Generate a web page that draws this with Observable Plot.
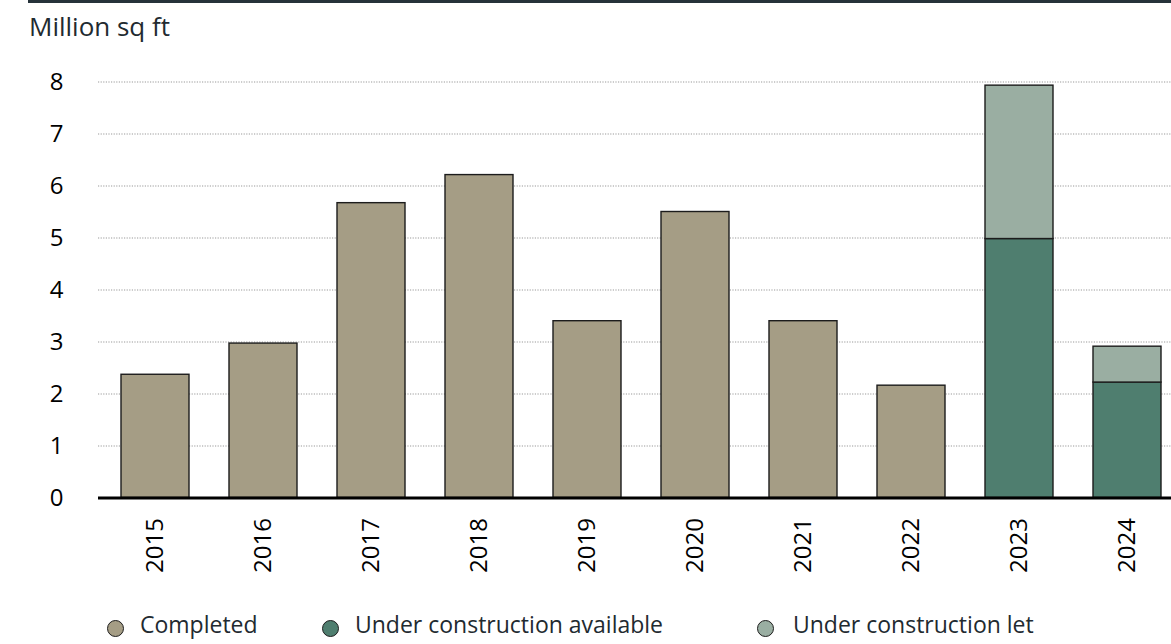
<!DOCTYPE html>
<html>
<head>
<meta charset="utf-8">
<script src="https://cdn.jsdelivr.net/npm/d3@7"></script>
<script src="https://cdn.jsdelivr.net/npm/@observablehq/plot@0.6"></script>
<style>
  html, body { margin: 0; padding: 0; background: #fff; }
  body { width: 1171px; height: 644px; overflow: hidden; font-family: "Open Sans", sans-serif; }
  #topline { position: absolute; left: 28px; top: 0; width: 1143px; height: 3px; background: #26323a; }
  #title { position: absolute; left: 29px; top: 13px; font-size: 26px; line-height: 26px; color: #222a30; white-space: nowrap; }
  #chart { position: absolute; left: 0; top: 45px; }
  #legend { position: absolute; left: 0; top: 585px; width: 1171px; height: 59px; }
  .sw { position: absolute; top: 35px; width: 15px; height: 15px; border-radius: 50%; border: 1.5px solid #1e1e1e; }
  .lab { position: absolute; top: 28px; font-size: 23px; line-height: 23px; color: #222a30; white-space: nowrap; }
</style>
</head>
<body>
<div id="topline"></div>
<div id="title">Million sq ft</div>
<div id="chart"></div>
<div id="legend"></div>
<script>
const years = ["2015","2016","2017","2018","2019","2020","2021","2022","2023","2024"];
const seriesNames = ["Completed", "Under construction available", "Under construction let"];
const seriesColors = ["#a59d85", "#4f7e6f", "#9aaea2"];
const completed = [2.37, 2.97, 5.67, 6.21, 3.40, 5.50, 3.40, 2.16, 0, 0];
const available = [0, 0, 0, 0, 0, 0, 0, 0, 4.98, 2.22];
const letValues = [0, 0, 0, 0, 0, 0, 0, 0, 2.95, 0.69];
const yTicks = [0, 1, 2, 3, 4, 5, 6, 7, 8];

const seriesValues = [completed, available, letValues];
const data = [];
seriesNames.forEach((s, si) => {
  years.forEach((yr, i) => {
    const v = seriesValues[si][i];
    if (v > 0) data.push({year: yr, series: s, value: v});
  });
});

const chart = Plot.plot({
  width: 1171,
  height: 540,
  marginLeft: 98,
  marginRight: 0,
  marginTop: 36.5,
  marginBottom: 87.5,
  x: {domain: years, range: [77.8, 1204.7], padding: 0.37, label: null},
  y: {domain: [0, 8], label: null},
  color: {domain: seriesNames, range: seriesColors},
  style: {fontFamily: "Open Sans, sans-serif", color: "#000", background: "transparent"},
  marks: [
    Plot.ruleY(yTicks.filter(d => d > 0), {stroke: "#9a9a9a", strokeWidth: 1.2, strokeDasharray: "1.2,1.4"}),
    Plot.barY(data, {x: "year", y: "value", fill: "series", stroke: "#1c1c1c", strokeWidth: 1.4}),
    Plot.ruleY([0], {stroke: "#000", strokeWidth: 3}),
    Plot.axisY(yTicks, {tickSize: 0, tickPadding: 35, fontSize: 24, fill: "#000", tickFormat: d => String(d)}),
    Plot.axisX(years, {tickSize: 0, tickRotate: -90, tickPadding: 20, fontSize: 24, fill: "#000"})
  ]
});
document.getElementById("chart").appendChild(chart);

const legendPos = [{c: 107, t: 140}, {c: 322, t: 355}, {c: 757, t: 793}];
const legend = document.getElementById("legend");
seriesNames.forEach((s, i) => {
  const sw = document.createElement("div");
  sw.className = "sw";
  sw.style.left = legendPos[i].c + "px";
  sw.style.background = seriesColors[i];
  legend.appendChild(sw);
  const lab = document.createElement("div");
  lab.className = "lab";
  lab.style.left = legendPos[i].t + "px";
  lab.textContent = s;
  legend.appendChild(lab);
});
</script>
</body>
</html>
